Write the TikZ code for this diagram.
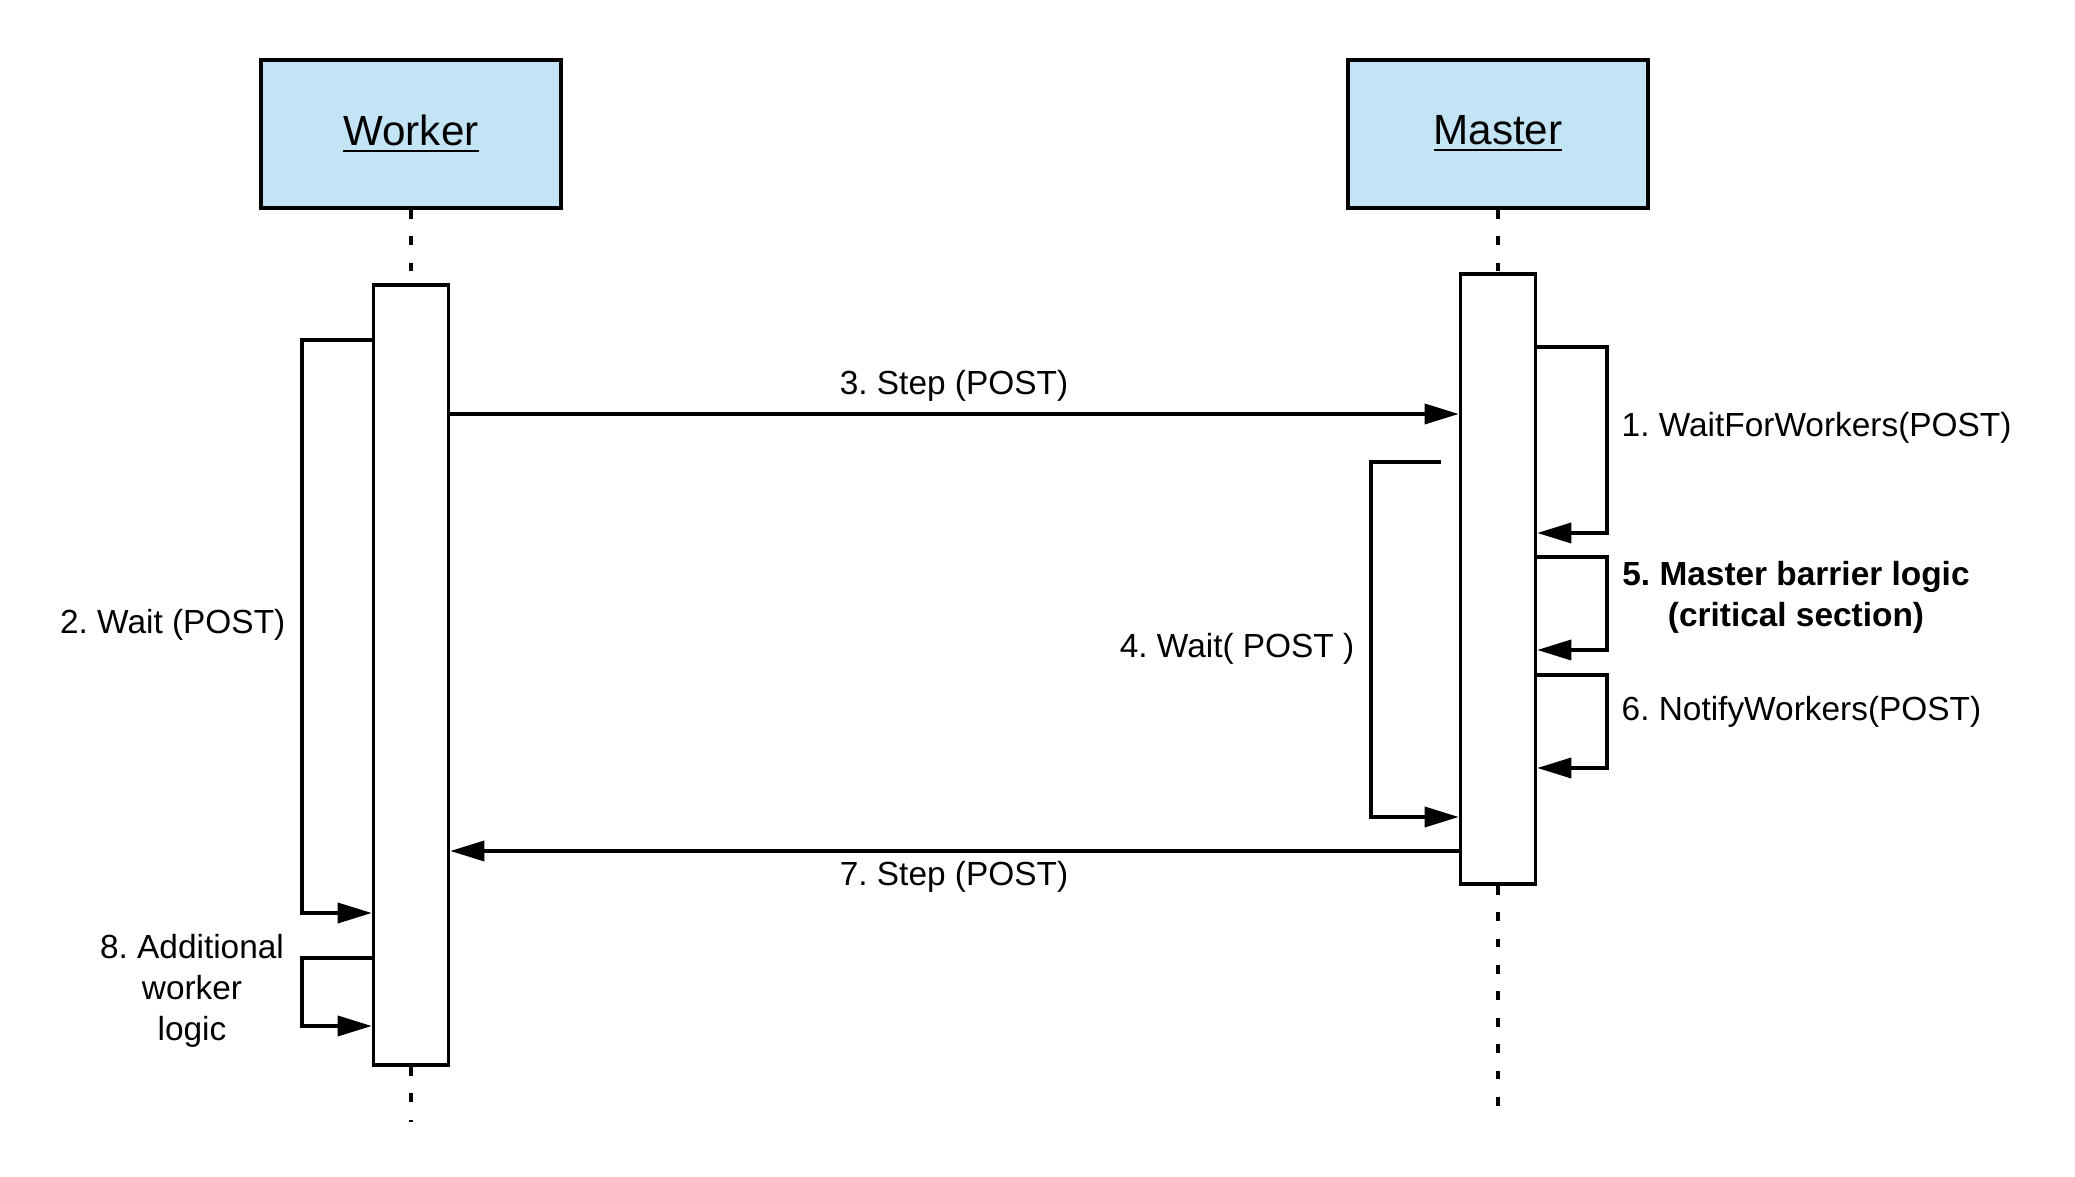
\documentclass[tikz,border=0pt]{standalone}
\usepackage{fontspec}
\setmainfont{Liberation Sans}
\usetikzlibrary{arrows.meta}
\definecolor{headblue}{RGB}{194,228,245}
\frenchspacing

\begin{document}
\begin{tikzpicture}[x=0.01cm, y=-0.01cm,
  every node/.style = {font=\fontsize{9.5}{11.6}\selectfont},
  head/.style = {shape=rectangle, draw, line width=1pt, fill=headblue,
    minimum width=3cm, minimum height=1.48cm,
    font=\fontsize{12}{14}\selectfont},
  act/.style = {shape=rectangle, draw, line width=1pt, fill=white,
    minimum width=0.75cm},
  life/.style = {line width=1pt, dash pattern=on 2.5pt off 5pt},
  msg/.style = {line width=1pt, -{Triangle[length=0.34cm, width=0.2cm]}},
  lbl/.style = {inner sep=0pt, align=center}]
  \useasboundingbox (0,0) rectangle (2075,1177);

  \node [head] (worker) at (411,134) {\underline{Worker}};
  \node [head] (master) at (1498,134) {\underline{Master}};
  \coordinate (wend) at (411,1122);
  \coordinate (mend) at (1498,1122);
  \node [act, minimum height=7.8cm] (wact) at (411,675) {};
  \node [act, minimum height=6.1cm] (mact) at (1498,579) {};
  \draw [life] (worker) -- (wact);
  \draw [life] (wact) -- (wend);
  \draw [life] (master) -- (mact);
  \draw [life] (mact) -- (mend);

  \coordinate (m1a) at (1607,347);
  \coordinate (m1b) at (1607,533);
  \draw [msg] (mact.east |- m1a) -- (m1a) -- (m1b) -- (mact.east |- m1b);
  \node [lbl, anchor=west] (l1) at (1621,428) {1. WaitForWorkers(POST)};

  \coordinate (w2a) at (302,340);
  \coordinate (w2b) at (302,913);
  \draw [msg] (wact.west |- w2a) -- (w2a) -- (w2b) -- (wact.west |- w2b);
  \node [lbl, anchor=east] (l2) at (286,625) {2. Wait (POST)};

  \coordinate (s3) at (0,414);
  \draw [msg] (wact.east |- s3) -- (mact.west |- s3);
  \node [lbl] (l3) at (954,386) {3. Step (POST)};

  \coordinate (m4s) at (1441,462);
  \coordinate (m4b) at (1371,817);
  \draw [msg] (m4s) -| (m4b) -- (mact.west |- m4b);
  \node [lbl, anchor=east] (l4) at (1355,649) {4. Wait( POST )};

  \coordinate (m5a) at (1607,557);
  \coordinate (m5b) at (1607,650);
  \draw [msg] (mact.east |- m5a) -- (m5a) -- (m5b) -- (mact.east |- m5b);
  \node [lbl, font=\fontsize{9.5}{11.6}\selectfont\bfseries] (l5) at (1796,597)
    {5. Master barrier logic\\(critical section)};

  \coordinate (m6a) at (1607,675);
  \coordinate (m6b) at (1607,768);
  \draw [msg] (mact.east |- m6a) -- (m6a) -- (m6b) -- (mact.east |- m6b);
  \node [lbl, anchor=west] (l6) at (1621,712) {6. NotifyWorkers(POST)};

  \coordinate (s7) at (0,851);
  \draw [msg] (mact.west |- s7) -- (wact.east |- s7);
  \node [lbl] (l7) at (954,877) {7. Step (POST)};

  \coordinate (w8a) at (302,958);
  \coordinate (w8b) at (302,1026);
  \draw [msg] (wact.west |- w8a) -- (w8a) -- (w8b) -- (wact.west |- w8b);
  \node [lbl] (l8) at (192,991) {8. Additional\\worker\\logic};
\end{tikzpicture}
\end{document}
